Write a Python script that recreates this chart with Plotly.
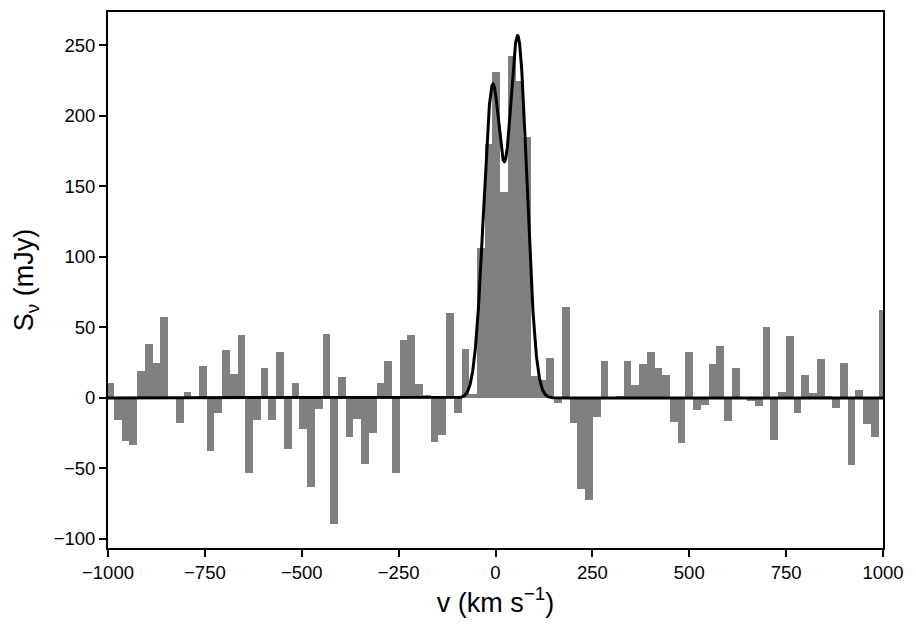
import numpy as np
import plotly.graph_objects as go

# Channel grid (km/s): first channel centre and channel width
v_first = -994.5
dv = 19.93
n_chan = 101

# Flux density per channel (mJy)
flux = [
    10.8, -15.8, -30.6, -33.5, 19.3, 38.3, 24.9, 57.4, 0.5, -17.9,
    4.4, 0.0, 22.8, -37.7, -10.9, 34.1, 17.2, 44.7, -53.2, -15.8,
    21.4, -15.8, 32.7, -36.3, 10.8, -22.2, -63.1, -8.1, 45.4, -89.3,
    15.0, -27.8, -15.1, -46.9, -25.0, 10.8, 26.3, -53.2, 41.2, 44.7,
    10.1, 2.3, -31.4, -26.5, 60.2, -10.9, 34.8, 2.5, 106.4, 180.3,
    231.1, 145.7, 242.4, 224.8, 185.0, 15.7, 12.9, 28.5, -3.8, 64.5,
    -17.9, -64.5, -72.3, -13.7, 26.3, 0.0, 1.6, 26.3, 9.4, 24.2,
    32.7, 21.4, 16.5, -17.2, -32.0, 32.7, -8.7, -5.2, 24.2, 36.9,
    -16.5, 21.4, 0.0, -2.4, -5.9, 50.4, -29.9, 4.4, 44.0, -10.9,
    16.5, 3.7, 27.7, 1.6, -7.3, 24.9, -47.6, 5.9, -18.6, -27.8,
    62.4,
]

# Double-Gaussian fit parameters
fit_amp = [218.0, 253.0]      # mJy
fit_cen = [-8.0, 58.0]        # km/s
fit_sigma = 23.0              # km/s

x_ticks = [-1000, -750, -500, -250, 0, 250, 500, 750, 1000]
y_ticks = [-100, -50, 0, 50, 100, 150, 200, 250]

vel = [v_first + dv * i for i in range(n_chan)]

vfit = np.linspace(-1000, 1000, 4001)
sfit = np.zeros_like(vfit)
for a, c in zip(fit_amp, fit_cen):
    sfit += a * np.exp(-(vfit - c) ** 2 / (2 * fit_sigma ** 2))

fig = go.Figure()
fig.add_trace(go.Bar(
    x=vel, y=flux, width=dv,
    marker=dict(color="#808080", line=dict(width=0)),
    showlegend=False, hoverinfo="x+y",
))
fig.add_trace(go.Scatter(
    x=vfit, y=sfit, mode="lines",
    line=dict(color="black", width=3),
    showlegend=False,
))

font = dict(family="Liberation Sans, Arial, sans-serif", color="black")

fig.update_layout(
    width=916, height=629,
    margin=dict(l=108, r=33, t=10, b=81),
    paper_bgcolor="white", plot_bgcolor="white",
    bargap=0,
    font=dict(**font, size=18),
)
fig.update_xaxes(
    range=[-1000, 1000],
    tickvals=x_ticks, ticktext=[f"{t:d}".replace("-", "\u2212") for t in x_ticks],
    ticks="outside", ticklen=7, tickwidth=2, tickcolor="black",
    showline=True, linecolor="black", linewidth=2, mirror=True,
    showgrid=False, zeroline=False,
    tickfont=dict(**font, size=18.5),
    title=dict(text="v (km s<sup>\u22121</sup>)", font=dict(**font, size=27), standoff=8),
)
fig.update_yaxes(
    range=[-106.4, 273.5],
    tickvals=y_ticks, ticktext=[f"{t:d}".replace("-", "\u2212") for t in y_ticks],
    ticks="outside", ticklen=7, tickwidth=2, tickcolor="black",
    showline=True, linecolor="black", linewidth=2, mirror=True,
    showgrid=False, zeroline=False,
    tickfont=dict(**font, size=18.5),
    title=dict(text="S<sub>\u03bd</sub> (mJy)", font=dict(**font, size=27), standoff=12),
)

fig.write_html("out.html")
